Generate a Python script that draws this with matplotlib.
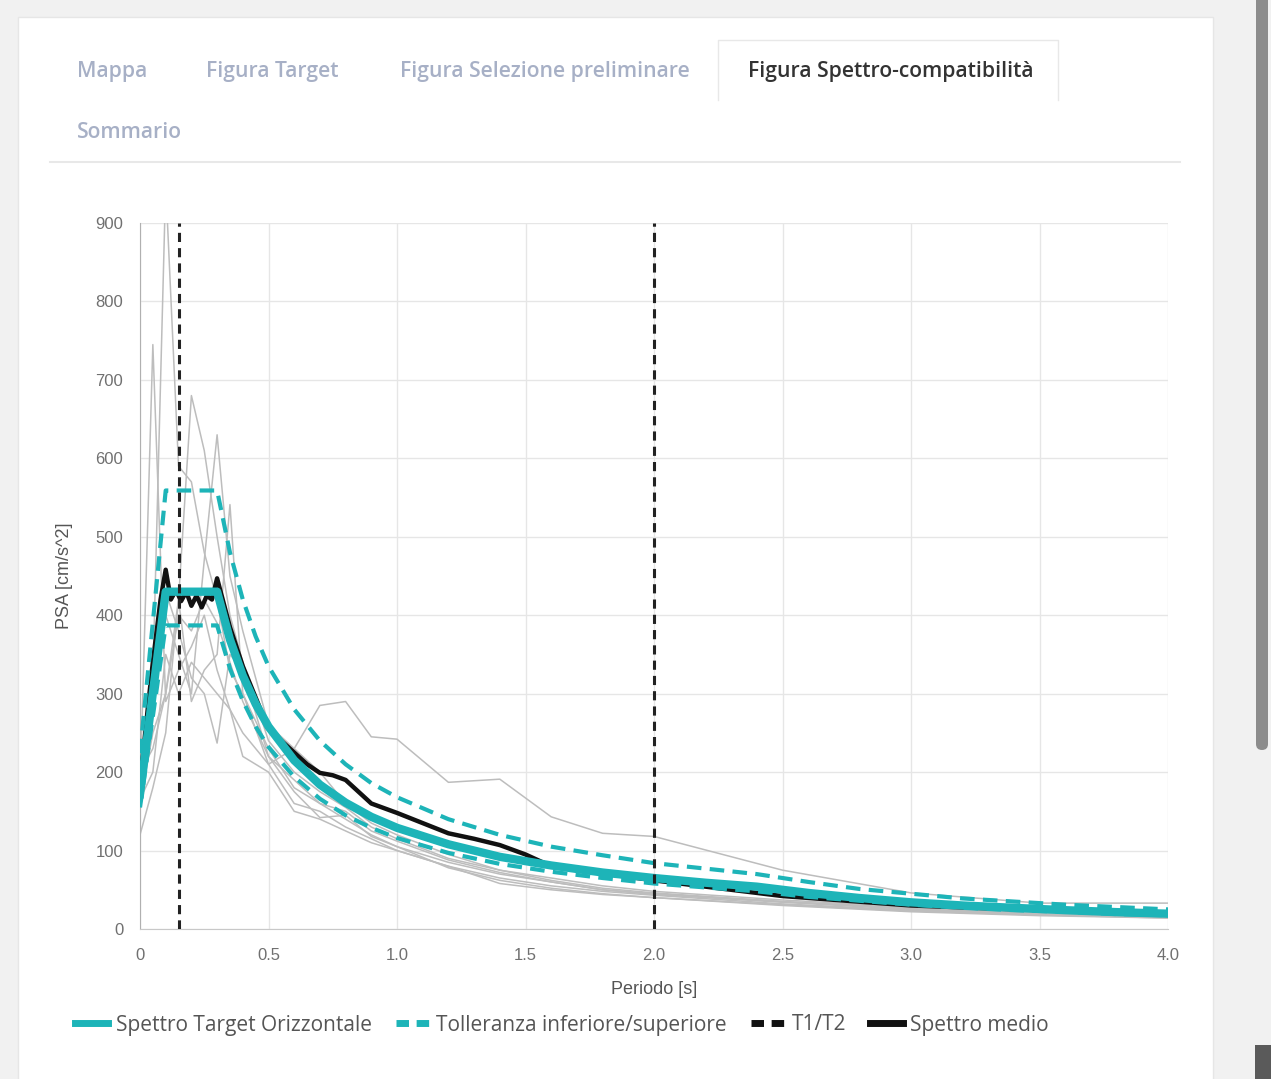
import matplotlib
matplotlib.use("Agg")
import matplotlib.pyplot as plt
from matplotlib.lines import Line2D
from matplotlib.patches import Rectangle, FancyBboxPatch

# --- data ---
periods = [0, 0.05, 0.1, 0.15, 0.2, 0.25, 0.3, 0.35, 0.4, 0.45, 0.5, 0.6, 0.7, 0.8,
           0.9, 1.0, 1.2, 1.4, 1.6, 1.8, 2.0, 2.2, 2.4, 2.6, 2.8, 3.0, 3.2, 3.4,
           3.6, 3.8, 4.0]
target = [172, 301, 430, 430, 430, 430, 430, 369, 323, 287, 258, 215, 184, 161,
          143, 129, 108, 92, 81, 72, 65, 59, 54, 46, 39.5, 34, 30, 27, 24, 21.5, 19.5]
upper = [224, 391, 559, 559, 559, 559, 559, 480, 420, 373, 335, 280, 240, 210,
         186, 168, 140, 120, 105, 94, 84, 77, 70, 60, 51, 45, 39, 35, 31, 28, 25]
lower = [155, 271, 387, 387, 387, 387, 387, 332, 291, 258, 232, 194, 166, 145,
         129, 116, 97, 83, 73, 65, 58, 53, 48, 41, 36, 31, 27, 24, 22, 19, 17.5]

mean_periods = [0, 0.03, 0.05, 0.08, 0.1, 0.12, 0.14, 0.16, 0.18, 0.2, 0.22, 0.24,
                0.26, 0.28, 0.3, 0.35, 0.4, 0.45, 0.5, 0.55, 0.6, 0.65, 0.7, 0.75,
                0.8, 0.85, 0.9, 1.0, 1.1, 1.2, 1.3, 1.4, 1.5, 1.6, 1.8, 2.0, 2.5,
                3.0, 3.5, 4.0]
mean_spec = [185, 280, 340, 420, 458, 420, 432, 418, 430, 412, 425, 410, 425, 420,
             447, 385, 335, 295, 255, 240, 225, 210, 199, 196, 190, 175, 160, 148,
             135, 122, 115, 107, 95, 80, 71, 62, 42, 30, 24, 18]

rec_periods = [0, 0.05, 0.1, 0.15, 0.2, 0.25, 0.3, 0.35, 0.4, 0.5, 0.6, 0.7, 0.8,
               0.9, 1.0, 1.2, 1.4, 1.6, 1.8, 2.0, 2.5, 3.0, 3.5, 4.0]
records = [
    [150, 320, 950, 590, 570, 480, 420, 330, 300, 230, 180, 160, 140, 120, 105, 85, 70, 60, 50, 45, 35, 26, 20, 16],
    [175, 745, 290, 330, 360, 400, 330, 280, 250, 210, 160, 150, 130, 115, 100, 80, 65, 55, 48, 43, 32, 24, 19, 15],
    [160, 250, 300, 420, 680, 610, 500, 400, 340, 240, 200, 175, 155, 130, 115, 90, 75, 62, 52, 46, 35, 27, 21, 17],
    [180, 300, 400, 350, 300, 470, 630, 450, 380, 260, 230, 200, 160, 135, 120, 95, 75, 65, 55, 48, 37, 28, 22, 18],
    [120, 180, 250, 420, 290, 330, 350, 541, 300, 210, 230, 285, 290, 245, 242, 187, 191, 143, 122, 118, 75, 46, 33, 33],
    [165, 200, 350, 300, 340, 320, 300, 280, 220, 200, 150, 140, 125, 110, 100, 80, 58, 50, 44, 40, 30, 22, 17, 14],
    [200, 230, 300, 400, 380, 420, 390, 340, 290, 220, 175, 142, 145, 118, 105, 78, 62, 52, 45, 40, 31, 23, 18, 14],
    [165, 280, 430, 380, 320, 300, 237, 350, 330, 220, 190, 160, 150, 125, 112, 88, 72, 60, 50, 44, 34, 25, 20, 16],
]
t1_t2 = [0.15, 2.0]

tabs = ["Mappa", "Figura Target", "Figura Selezione preliminare"]
tab_x = [77, 206, 400]

CYAN = "#1db4b8"
W, H = 1271, 1079

fig = plt.figure(figsize=(W / 100, H / 100), dpi=100)
fig.patch.set_facecolor("#f1f1f1")

# page chrome in pixel coords
bg = fig.add_axes([0, 0, 1, 1], zorder=-1)
bg.set_xlim(0, W)
bg.set_ylim(H, 0)
bg.axis("off")
bg.add_patch(Rectangle((18, 17), 1195, 1070, facecolor="white", edgecolor="#e6e6e6", lw=1))
bg.add_patch(Rectangle((1250, 0), 21, 1079, facecolor="#f1f1f1", edgecolor="none"))
bg.add_patch(FancyBboxPatch((1256, -10), 12, 760, boxstyle="round,pad=0,rounding_size=6",
                            facecolor="#8c8c8c", edgecolor="none"))
bg.add_patch(Rectangle((1255, 1045), 16, 40, facecolor="#5a5a5a", edgecolor="none"))
bg.plot([718, 718, 1058, 1058], [100, 40, 40, 100], color="#e8e8e8", lw=1)
bg.plot([50, 1180], [162, 162], color="#e8e8e8", lw=1.5)
for t, x in zip(tabs, tab_x):
    bg.text(x, 71, t, fontsize=15.2, family="Open Sans", color="#a7b0c6", va="center",
            fontweight="semibold")
bg.text(748, 71, "Figura Spettro-compatibilità", fontsize=15.2, family="Open Sans",
        color="#333333", va="center", fontweight="semibold")
bg.text(77, 132, "Sommario", fontsize=15.2, family="Open Sans", color="#a7b0c6", va="center",
        fontweight="semibold")

# chart
ax = fig.add_axes([140 / W, 1 - 929 / H, 1028 / W, 706 / H])
for rec in records:
    ax.plot(rec_periods, rec, color="#bdbdbd", lw=1.1, zorder=2)
ax.plot(mean_periods, mean_spec, color="#111111", lw=3.2, zorder=3)
ax.plot(periods, target, color=CYAN, lw=6, zorder=4, solid_joinstyle="round")
ax.plot(periods, upper, color=CYAN, lw=3, dashes=(3.5, 2), zorder=5)
ax.plot(periods, lower, color=CYAN, lw=3, dashes=(3.5, 2), zorder=5)
for t in t1_t2:
    ax.axvline(t, color="#222222", lw=2.2, dashes=(3, 2), zorder=6)

ax.set_xlim(0, 4.0)
ax.set_ylim(0, 900)
ax.set_xticks([0, 0.5, 1.0, 1.5, 2.0, 2.5, 3.0, 3.5, 4.0])
ax.set_xticklabels(["0", "0.5", "1.0", "1.5", "2.0", "2.5", "3.0", "3.5", "4.0"])
ax.set_yticks(range(0, 1000, 100))
ax.grid(True, color="#e6e6e6", lw=1)
ax.set_axisbelow(True)
for side in ["top", "right"]:
    ax.spines[side].set_visible(False)
ax.spines["left"].set_color("#b0b0b0")
ax.spines["bottom"].set_color("#c8c8c8")
ax.tick_params(axis="y", length=0, labelsize=12, labelcolor="#707070", pad=12)
ax.tick_params(axis="x", length=0, labelsize=12, labelcolor="#707070", pad=14)
for lab in ax.get_xticklabels() + ax.get_yticklabels():
    lab.set_family("Liberation Sans")
ax.set_xlabel("Periodo [s]", fontsize=13, family="Liberation Sans", color="#555555", labelpad=13)
ax.set_ylabel("PSA [cm/s^2]", fontsize=13, family="Liberation Sans", color="#555555", labelpad=16)

handles = [
    Line2D([], [], color=CYAN, lw=5),
    Line2D([], [], color=CYAN, lw=5, dashes=(1.8, 1.1)),
    Line2D([], [], color="#111111", lw=5, dashes=(1.8, 1.1)),
    Line2D([], [], color="#111111", lw=5),
]
labels = ["Spettro Target Orizzontale", "Tolleranza inferiore/superiore", "T1/T2", "Spettro medio"]
leg = fig.legend(handles, labels, loc="center left", bbox_to_anchor=(75 / W, 1 - 1025 / H),
                 ncol=4, frameon=False, handlelength=1.6, handletextpad=0.35,
                 columnspacing=1.15, borderpad=0, borderaxespad=0,
                 prop={"family": "Open Sans", "size": 15})
for txt in leg.get_texts():
    txt.set_color("#555555")

fig.savefig("out.png", dpi=100)
